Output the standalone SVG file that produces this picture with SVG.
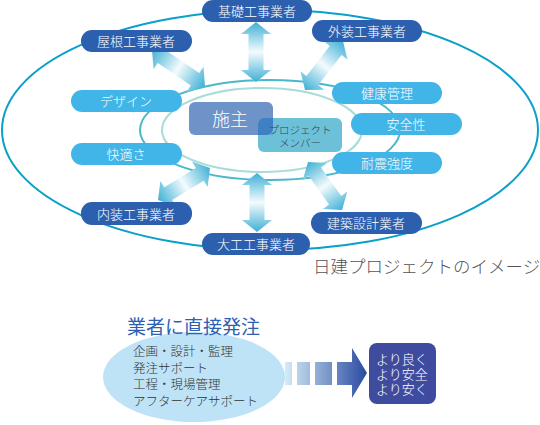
<svg xmlns="http://www.w3.org/2000/svg" width="540" height="425" viewBox="0 0 540 425">
<style>
text{font-family:"Noto Sans CJK JP","Noto Sans",sans-serif;font-weight:300}
.dark{fill:#2c5fae}
.light{fill:#41b5e8}
.pt{fill:#fff;font-size:13px;text-anchor:middle}
.arr{fill:url(#ag)}
</style>
<defs>
<linearGradient id="ag" x1="0" y1="0" x2="1" y2="0">
<stop offset="0" stop-color="#3fb0d6"/>
<stop offset="0.5" stop-color="#f4fbfd"/>
<stop offset="1" stop-color="#3fb0d6"/>
</linearGradient>
<linearGradient id="dg" gradientUnits="userSpaceOnUse" x1="285" y1="0" x2="367" y2="0">
<stop offset="0" stop-color="#d4ecf8"/>
<stop offset="1" stop-color="#2a4aa0"/>
</linearGradient>
<clipPath id="ownerClip"><rect x="189" y="102" width="84" height="33" rx="6"/></clipPath>
</defs>

<g id="rings" fill="none">
<ellipse cx="270" cy="130" rx="268" ry="120" stroke="#0aa0c8" stroke-width="2"/>
<ellipse cx="270" cy="130" rx="130" ry="50" stroke="#4ab8cc" stroke-width="2"/>
<ellipse cx="262" cy="130" rx="100" ry="42" stroke="#a8dcd8" stroke-width="2"/>
</g>

<g id="connectors">
<path class="arr" transform="translate(256,52) rotate(90)" d="M-30,0 L-18,-15 L-18,-7.5 L18,-7.5 L18,-15 L30,0 L18,15 L18,7.5 L-18,7.5 L-18,15 Z"/>
<path class="arr" transform="translate(257,202.5) rotate(90)" d="M-29.5,0 L-17.5,-15 L-17.5,-7.5 L17.5,-7.5 L17.5,-15 L29.5,0 L17.5,15 L17.5,7.5 L-17.5,7.5 L-17.5,15 Z"/>
<path class="arr" transform="translate(178.5,68) rotate(34.2)" d="M-32,0 L-20,-15 L-20,-7.5 L20,-7.5 L20,-15 L32,0 L20,15 L20,7.5 L-20,7.5 L-20,15 Z"/>
<path class="arr" transform="translate(184,184) rotate(-31.6)" d="M-30.5,0 L-18.5,-15 L-18.5,-7.5 L18.5,-7.5 L18.5,-15 L30.5,0 L18.5,15 L18.5,7.5 L-18.5,7.5 L-18.5,15 Z"/>
<path class="arr" transform="translate(325,186) rotate(54.7)" d="M-29.5,0 L-17.5,-15 L-17.5,-7.5 L17.5,-7.5 L17.5,-15 L29.5,0 L17.5,15 L17.5,7.5 L-17.5,7.5 L-17.5,15 Z"/>
<path class="arr" transform="translate(324,65.5) rotate(-52.2)" d="M-31,0 L-19,-15 L-19,-7.5 L19,-7.5 L19,-15 L31,0 L19,15 L19,7.5 L-19,7.5 L-19,15 Z"/>
</g>

<g id="owner">
<rect x="189" y="102" width="84" height="33" rx="6" fill="#6d93c9"/>
<text x="230" y="126" fill="#fff" font-size="18" text-anchor="middle">施主</text>
</g>
<g id="members">
<rect x="258" y="118" width="84" height="34" rx="6" fill="#6cc0d8"/>
<rect x="258" y="118" width="84" height="34" rx="6" fill="#3f7fc2" clip-path="url(#ownerClip)"/>
<text x="300" y="134" fill="#3a4450" font-size="10.5" text-anchor="middle">プロジェクト</text>
<text x="300" y="147" fill="#3a4450" font-size="10.5" text-anchor="middle">メンバー</text>
</g>

<g id="n-yane"><rect class="dark" x="81" y="30" width="111" height="22" rx="11"/><text class="pt" x="136" y="46">屋根工事業者</text></g>
<g id="n-kiso"><rect class="dark" x="202" y="0" width="110" height="22" rx="11"/><text class="pt" x="257" y="16">基礎工事業者</text></g>
<g id="n-gaiso"><rect class="dark" x="312" y="20" width="110" height="22" rx="11"/><text class="pt" x="367" y="36">外装工事業者</text></g>
<g id="n-design"><rect class="light" x="71" y="90" width="111" height="22" rx="11"/><text class="pt" x="126" y="106">デザイン</text></g>
<g id="n-kaiteki"><rect class="light" x="71" y="143" width="111" height="22" rx="11"/><text class="pt" x="126" y="159">快適さ</text></g>
<g id="n-kenko"><rect class="light" x="332" y="82" width="110" height="22" rx="11"/><text class="pt" x="387" y="98">健康管理</text></g>
<g id="n-anzen"><rect class="light" x="351" y="113" width="111" height="22" rx="11"/><text class="pt" x="406" y="129">安全性</text></g>
<g id="n-taishin"><rect class="light" x="332" y="152" width="110" height="22" rx="11"/><text class="pt" x="387" y="168">耐震強度</text></g>
<g id="n-naiso"><rect class="dark" x="81" y="202" width="111" height="23" rx="11"/><text class="pt" x="136" y="219">内装工事業者</text></g>
<g id="n-kenchiku"><rect class="dark" x="311" y="212" width="111" height="22" rx="11"/><text class="pt" x="366" y="228">建築設計業者</text></g>
<g id="n-daiku"><rect class="dark" x="202" y="233" width="108" height="22" rx="11"/><text class="pt" x="256" y="249">大工工事業者</text></g>

<text x="313" y="273" fill="#555" font-size="17.5">日建プロジェクトのイメージ</text>

<g id="direct">
<ellipse cx="194" cy="377" rx="91" ry="45" fill="#bfe3f6"/>
<text x="127" y="334" fill="#2d5fb2" font-size="19" style="font-weight:400">業者に直接発注</text>
<g fill="#333" font-size="12.5">
<text x="133" y="356">企画・設計・監理</text>
<text x="133" y="373">発注サポート</text>
<text x="133" y="389">工程・現場管理</text>
<text x="133" y="406">アフターケアサポート</text>
</g>
</g>

<g id="flow" fill="url(#dg)">
<rect x="285" y="362" width="7" height="23"/>
<rect x="297" y="362" width="13" height="23"/>
<rect x="315" y="362" width="17" height="23"/>
<rect x="337" y="362" width="16" height="23"/>
<polygon points="352,348 367,373 352,398"/>
</g>

<g id="result">
<rect x="369" y="343" width="67" height="61" rx="8" fill="#3e4b9e"/>
<g fill="#fff" font-size="13">
<text x="376" y="364">より良く</text>
<text x="376" y="379">より安全</text>
<text x="376" y="394">より安く</text>
</g>
</g>
</svg>
